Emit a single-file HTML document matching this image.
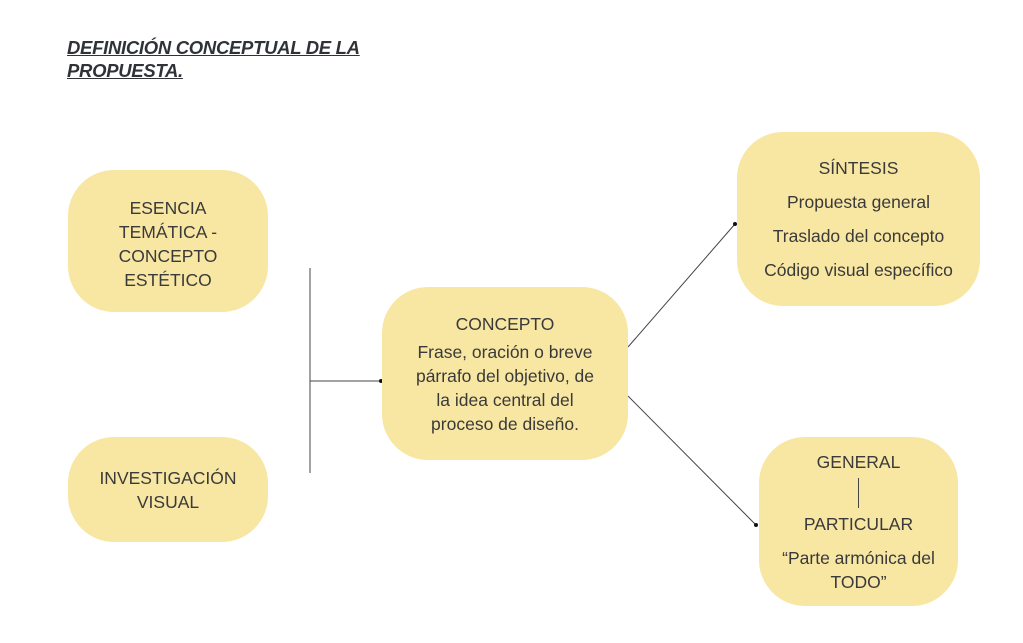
<!DOCTYPE html>
<html><head><meta charset="utf-8"><style>
body{margin:0;width:1023px;height:643px;background:#fff;position:relative;font-family:"Liberation Sans",sans-serif;color:#3a3a3a;overflow:hidden}
.t{position:absolute;left:67px;top:36px;font-weight:bold;font-style:italic;text-decoration:underline;font-size:18.5px;line-height:23px;color:#2f3337;letter-spacing:-0.3px}
.n{position:absolute;background:#f8e6a3;border-radius:46px;display:flex;flex-direction:column;justify-content:center;align-items:center;text-align:center;font-size:17.5px;line-height:24px}
</style></head><body>
<div class="t">DEFINICIÓN CONCEPTUAL DE LA<br>PROPUESTA.</div>
<svg width="1023" height="643" style="position:absolute;left:0;top:0">
<g stroke="#444" stroke-width="1" fill="none">
<line x1="310" y1="268" x2="310" y2="473"/>
<line x1="310" y1="381" x2="381" y2="381"/>
<line x1="628" y1="347" x2="735" y2="224"/>
<line x1="628" y1="396" x2="756" y2="525"/>
</g>
<g fill="#111"><circle cx="381" cy="381" r="2"/><circle cx="735" cy="224" r="2"/><circle cx="756" cy="525" r="2"/></g>
</svg>
<div class="n" style="left:68px;top:170px;width:200px;height:142px;padding-top:6px;box-sizing:border-box">ESENCIA<br>TEMÁTICA -<br>CONCEPTO<br>ESTÉTICO</div>
<div class="n" style="left:68px;top:437px;width:200px;height:105px">INVESTIGACIÓN<br>VISUAL</div>
<div class="n" style="left:382px;top:287px;width:246px;height:173px;line-height:24px"><div style="margin-bottom:4px">CONCEPTO</div>Frase, oración o breve<br>párrafo del objetivo, de<br>la idea central del<br>proceso de diseño.</div>
<div class="n" style="left:737px;top:132px;width:243px;height:174px;line-height:34px">SÍNTESIS<br>Propuesta general<br>Traslado del concepto<br>Código visual específico</div>
<div class="n" style="left:759px;top:437px;width:199px;height:169px;line-height:24px">GENERAL<div style="width:1px;height:30px;background:#444;margin:4px 0"></div>PARTICULAR<div style="height:10px"></div>“Parte armónica del<br>TODO”</div>
</body></html>
